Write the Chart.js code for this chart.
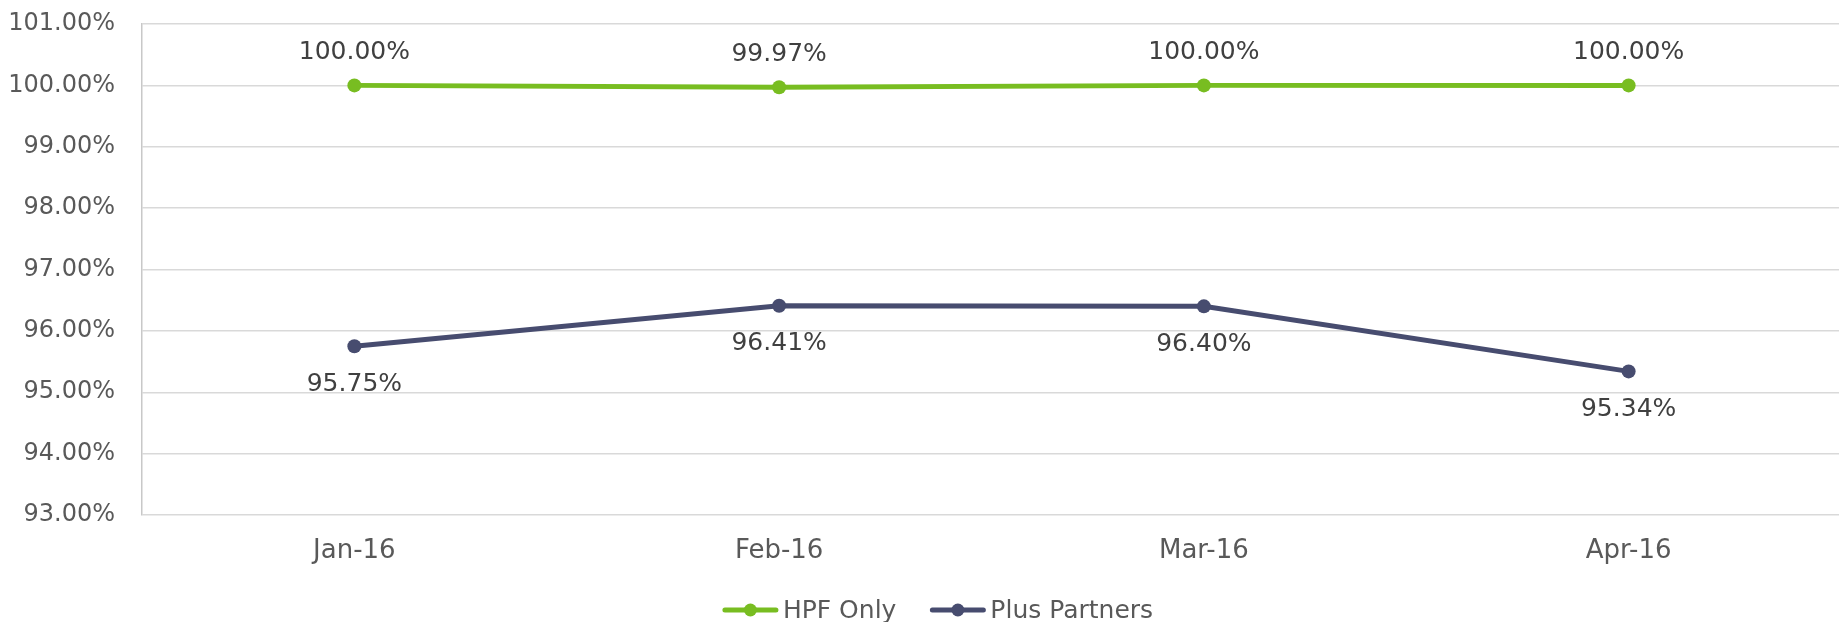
<!DOCTYPE html>
<html>
<head>
<meta charset="utf-8">
<script src="https://cdn.jsdelivr.net/npm/chart.js@4/dist/chart.umd.min.js"></script>
<style>
  html, body { margin: 0; padding: 0; background: #fff; overflow: hidden; }
  #wrap { width: 1848px; height: 622px; }
</style>
</head>
<body>
<div id="wrap"><canvas id="chart" width="1848" height="622"></canvas></div>
<script>
// Monthly rates, Jan-Apr 2016

const months = ['Jan-16', 'Feb-16', 'Mar-16', 'Apr-16'];
const hpfOnly = [100.00, 99.97, 100.00, 100.00];
const plusPartners = [95.75, 96.41, 96.40, 95.34];
const yMin = 93;
const yMax = 101;

const GREEN = '#78bd21';
const NAVY = '#474c6f';
const FONT = "'DejaVu Sans', sans-serif";

function pct(v) {
  return v.toFixed(2) + '%';
}

const valueLabels = {
  id: 'valueLabels',
  afterDatasetsDraw(chart) {
    const ctx = chart.ctx;
    ctx.save();
    ctx.font = '25px ' + FONT;
    ctx.fillStyle = '#404040';
    ctx.textAlign = 'center';
    ctx.textBaseline = 'middle';
    chart.data.datasets.forEach((ds, i) => {
      const meta = chart.getDatasetMeta(i);
      meta.data.forEach((pt, j) => {
        ctx.fillText(pct(ds.data[j]), pt.x, pt.y + ds.labelShift);
      });
    });
    ctx.restore();
  }
};

// bottom legend: line + dot marker, then the series name
const bottomLegend = {
  id: 'bottomLegend',
  afterDraw(chart) {
    const ctx = chart.ctx;
    const lineW = 55, textGap = 5, itemGap = 34;
    const centerX = 938, y = 610;
    ctx.save();
    ctx.font = '25px ' + FONT;
    const items = chart.data.datasets.map(ds => ({
      ds, w: lineW + textGap + ctx.measureText(ds.label).width
    }));
    const total = items.reduce((s, it) => s + it.w, 0) + itemGap * (items.length - 1);
    let x = centerX - total / 2;
    items.forEach(it => {
      const c = it.ds.borderColor;
      ctx.strokeStyle = c;
      ctx.lineWidth = 5;
      ctx.lineCap = 'round';
      ctx.beginPath();
      ctx.moveTo(x + 2, y);
      ctx.lineTo(x + lineW - 2, y);
      ctx.stroke();
      ctx.fillStyle = c;
      ctx.beginPath();
      ctx.arc(x + lineW / 2, y, 6.5, 0, Math.PI * 2);
      ctx.fill();
      ctx.fillStyle = '#595959';
      ctx.textAlign = 'left';
      ctx.textBaseline = 'middle';
      ctx.fillText(it.ds.label, x + lineW + textGap, y + 1);
      x += it.w + itemGap;
    });
    ctx.restore();
  }
};

const ctx = document.getElementById('chart').getContext('2d');
new Chart(ctx, {
  type: 'line',
  data: {
    labels: months,
    datasets: [
      {
        label: 'HPF Only',
        data: hpfOnly,
        borderColor: GREEN,
        backgroundColor: GREEN,
        borderWidth: 5,
        pointRadius: 7,
        pointBorderWidth: 0,
        tension: 0,
        labelShift: -33,
      },
      {
        label: 'Plus Partners',
        data: plusPartners,
        borderColor: NAVY,
        backgroundColor: NAVY,
        borderWidth: 5,
        pointRadius: 7,
        pointBorderWidth: 0,
        tension: 0,
        labelShift: 38,
      },
    ],
  },
  options: {
    responsive: false,
    animation: false,
    layout: { padding: { top: 24, right: 2, left: 0, bottom: 49 } },
    plugins: {
      tooltip: { enabled: false },
      legend: { display: false },
    },
    scales: {
      x: {
        offset: true,
        grid: { display: false, drawTicks: false },
        border: { display: false },
        ticks: {
          color: '#595959',
          padding: 21,
          font: { size: 26, family: FONT },
        },
        afterFit(s) { s.height = 58; },
      },
      y: {
        min: yMin,
        max: yMax,
        grid: { color: '#d9d9d9', lineWidth: 1.5, drawTicks: false },
        border: { display: true, color: '#c8c8c8', width: 1.5 },
        ticks: {
          stepSize: 1,
          color: '#595959',
          padding: 27,
          font: { size: 24, family: FONT },
          callback: (v) => pct(v),
        },
        afterFit(s) {
          s.width = 142;
          s.paddingTop = 0;
          s.paddingBottom = 0;
        },
      },
    },
  },
  plugins: [valueLabels, bottomLegend],
});
</script>
</body>
</html>
